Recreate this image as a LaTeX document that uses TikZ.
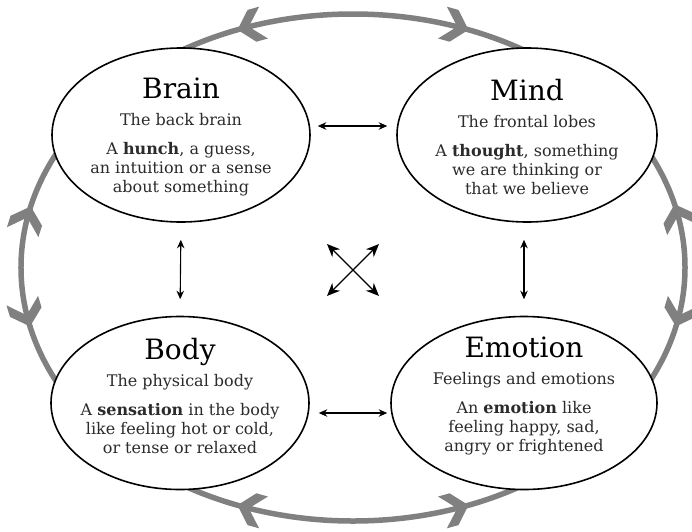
\documentclass[tikz,border=0pt]{standalone}
\usepackage{fontspec}
\setmainfont{DejaVu Serif}
\usetikzlibrary{shapes.geometric,arrows.meta,calc}
\definecolor{loopgray}{HTML}{808080}
\definecolor{inkgray}{HTML}{2B2B2B}
\begin{document}
\begin{tikzpicture}[x=1pt,y=1pt,
  realm/.style={ellipse, draw=black, line width=1.6pt, fill=white, inner sep=0pt},
  realmtext/.style={align=center, text=inkgray, inner sep=0pt,
    font=\fontsize{16}{19}\selectfont},
  cycleline/.style={draw=loopgray, line width=5.5pt},
  chevron/.style={fill=loopgray},
  link/.style={draw=black, line width=1.1pt,
    {Stealth[length=8.5pt,width=7.5pt]}-{Stealth[length=8.5pt,width=7.5pt]}},
  crosslink/.style={draw=black, line width=1.4pt,
    {Stealth[length=13pt,width=11pt]}-{Stealth[length=13pt,width=11pt]}},
]
\useasboundingbox (-353,-263.5) rectangle (339,267.5);

% outer cycle linking the four realms
\coordinate (loopcenter) at (0,0);
\draw[cycleline] (loopcenter) ellipse [x radius=332, y radius=253.5];
% barbed heads along the cycle: parameter angle / direction (+1 = counter-clockwise)
\foreach \t/\s in {110/1, 70/-1, 166.5/-1, 193/1, 14/1, -13/-1, 250/-1, 290/1}
  \fill[chevron, shift={(\t:332 and 253.5)},
        rotate={atan2(253.5*cos(\t)*\s, -332*sin(\t)*\s)}]
    (2,0) -- (-13,16.5) -- (-25,16.5) -- (-12,2.5) -- (-12,-2.5)
    -- (-25,-16.5) -- (-13,-16.5) -- cycle;

% the four realms
\node[realm, minimum width=258, minimum height=174] (brain)   at (-172, 132.5) {};
\node[realm, minimum width=260, minimum height=174] (mind)    at (174, 132.5) {};
\node[realm, minimum width=258, minimum height=173] (body)    at (-173, -135.5) {};
\node[realm, minimum width=266, minimum height=173] (emotion) at (171, -135.5) {};

\newcommand{\realmtitle}[1]{{\fontsize{28}{28}\selectfont\color{black}#1}}
\newcommand{\realmsub}[1]{{\fontsize{16}{19}\selectfont #1}}

\node[realmtext] (brainText) at ($(brain.center)+(0,-1.5)$)
  {\realmtitle{Brain}\\[8pt]\realmsub{The back brain}\\[10pt]
   A \textbf{hunch}, a guess,\\an intuition or a sense\\about something};
\node[realmtext] (mindText) at ($(mind.center)+(0,-1.5)$)
  {\realmtitle{Mind}\\[8pt]\realmsub{The frontal lobes}\\[10pt]
   A \textbf{thought}, something\\we are thinking or\\that we believe};
\node[realmtext] (bodyText) at ($(body.center)+(0,7)$)
  {\realmtitle{Body}\\[8pt]\realmsub{The physical body}\\[10pt]
   A \textbf{sensation} in the body\\like feeling hot or cold,\\or tense or relaxed};
\node[realmtext] (emotionText) at ($(emotion.center)+(0,7)$)
  {\realmtitle{Emotion}\\[8pt]\realmsub{Feelings and emotions}\\[10pt]
   An \textbf{emotion} like\\feeling happy, sad,\\angry or frightened};

% links between neighbouring realms
\draw[link, shorten <=7pt, shorten >=9pt]
  ([yshift=9pt]brain.east) -- ([yshift=9pt]mind.west);
\draw[link, shorten <=9pt, shorten >=3pt]
  ([yshift=-10pt]body.east) -- ([yshift=-10pt]emotion.west);
\draw[link, shorten <=17pt, shorten >=16.5pt] (brain.south) -- (body.north);
\draw[link, shorten <=17pt, shorten >=16.5pt]
  (emotion.north |- mind.south) -- (emotion.north);

% diagonal links through the middle
\coordinate (hub) at (0,-2.5);
\coordinate (nw) at ($(hub)+(-26,26)$);
\coordinate (se) at ($(hub)+(26,-26)$);
\coordinate (ne) at ($(hub)+(26,26)$);
\coordinate (sw) at ($(hub)+(-26,-26)$);
\draw[crosslink] (nw) -- (se);
\draw[crosslink] (ne) -- (sw);
\end{tikzpicture}
\end{document}
